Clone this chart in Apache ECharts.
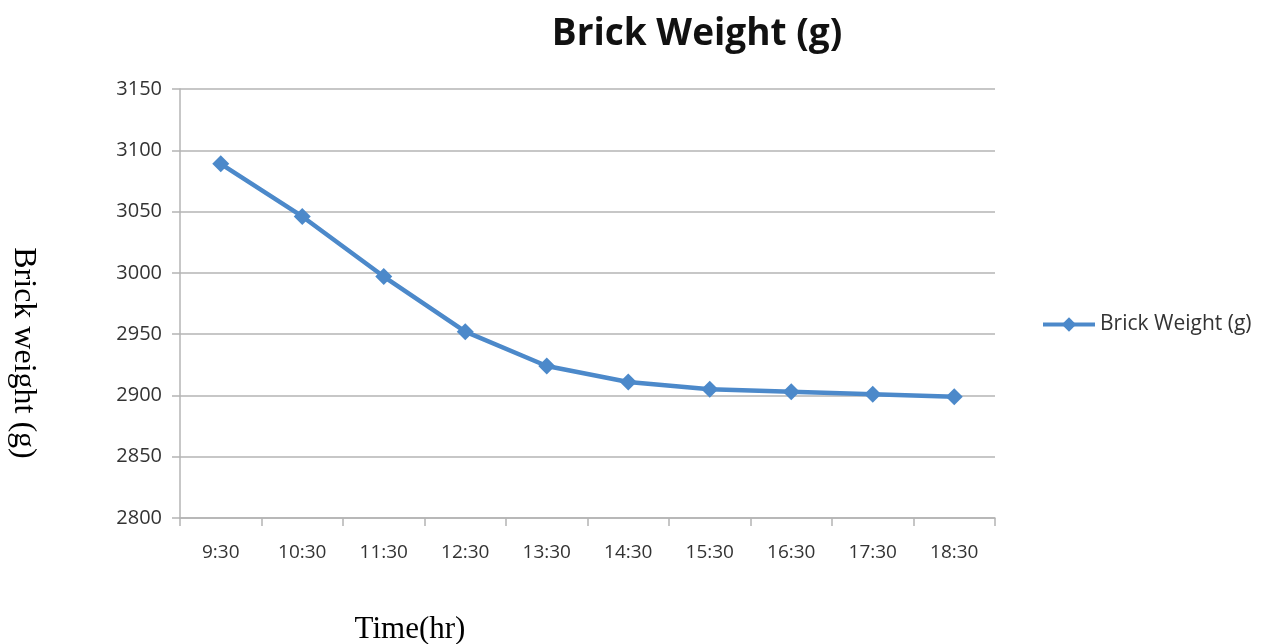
<!DOCTYPE html>
<html>
<head>
<meta charset="utf-8">
<script src="https://cdn.jsdelivr.net/npm/echarts@6/dist/echarts.min.js"></script>
<style>
  html, body { margin: 0; padding: 0; background: #fff; }
  #chart { width: 1263px; height: 644px; }
</style>
</head>
<body>
<div id="chart"></div>
<script>
// Hourly readings of the brick's weight while drying
const times = ['9:30', '10:30', '11:30', '12:30', '13:30', '14:30', '15:30', '16:30', '17:30', '18:30'];
const brickWeight = [3089, 3046, 2997, 2952, 2924, 2911, 2905, 2903, 2901, 2899];
const seriesName = 'Brick Weight (g)';
const yMin = 2800, yMax = 3150, yStep = 50;

const chart = echarts.init(document.getElementById('chart'));
const sans = '"Open Sans", "Noto Sans", sans-serif';
const serif = '"Liberation Serif", "DejaVu Serif", serif';
const blue = '#4c89ca';
const grey = '#b4b4b4';

chart.setOption({
  animation: false,
  backgroundColor: '#fff',
  title: {
    text: seriesName,
    left: 692,
    top: 11,
    textAlign: 'center',
    textStyle: { fontFamily: sans, fontWeight: 'bold', fontSize: 37, color: '#111' }
  },
  legend: {
    data: [seriesName],
    left: 1036,
    top: 309,
    itemWidth: 52,
    itemHeight: 18,
    lineStyle: { width: 4 },
    textStyle: { fontFamily: sans, fontSize: 21, color: '#333' }
  },
  grid: { left: 180, right: 268, top: 89, bottom: 126, containLabel: false },
  xAxis: {
    type: 'category',
    data: times,
    boundaryGap: true,
    axisLine: { lineStyle: { color: grey, width: 1.5 } },
    axisTick: { show: true, length: 8, lineStyle: { color: grey, width: 1.5 } },
    axisLabel: { margin: 25, fontFamily: sans, fontSize: 19, color: '#333' },
    splitLine: { show: false }
  },
  yAxis: {
    type: 'value',
    min: yMin,
    max: yMax,
    interval: yStep,
    axisLine: { show: true, lineStyle: { color: grey, width: 1.5 } },
    axisTick: { show: true, length: 8, lineStyle: { color: grey, width: 1.5 } },
    axisLabel: { margin: 18, fontFamily: sans, fontSize: 20, color: '#333', formatter: v => String(v) },
    splitLine: { show: true, lineStyle: { color: grey, width: 1.5 } }
  },
  series: [{
    name: seriesName,
    type: 'line',
    data: brickWeight,
    symbol: 'diamond',
    symbolSize: 17,
    itemStyle: { color: blue },
    lineStyle: { color: blue, width: 4.5 }
  }],
  graphic: [
    {
      type: 'text',
      x: 23,
      y: 353,
      rotation: -Math.PI / 2,
      style: {
        text: 'Brick weight (g)',
        font: '32px ' + serif,
        fill: '#000',
        textAlign: 'center',
        textVerticalAlign: 'middle'
      }
    },
    {
      type: 'text',
      x: 410,
      y: 630,
      style: {
        text: 'Time(hr)',
        font: '31px ' + serif,
        fill: '#000',
        textAlign: 'center',
        textVerticalAlign: 'middle'
      }
    }
  ]
});
</script>
</body>
</html>
